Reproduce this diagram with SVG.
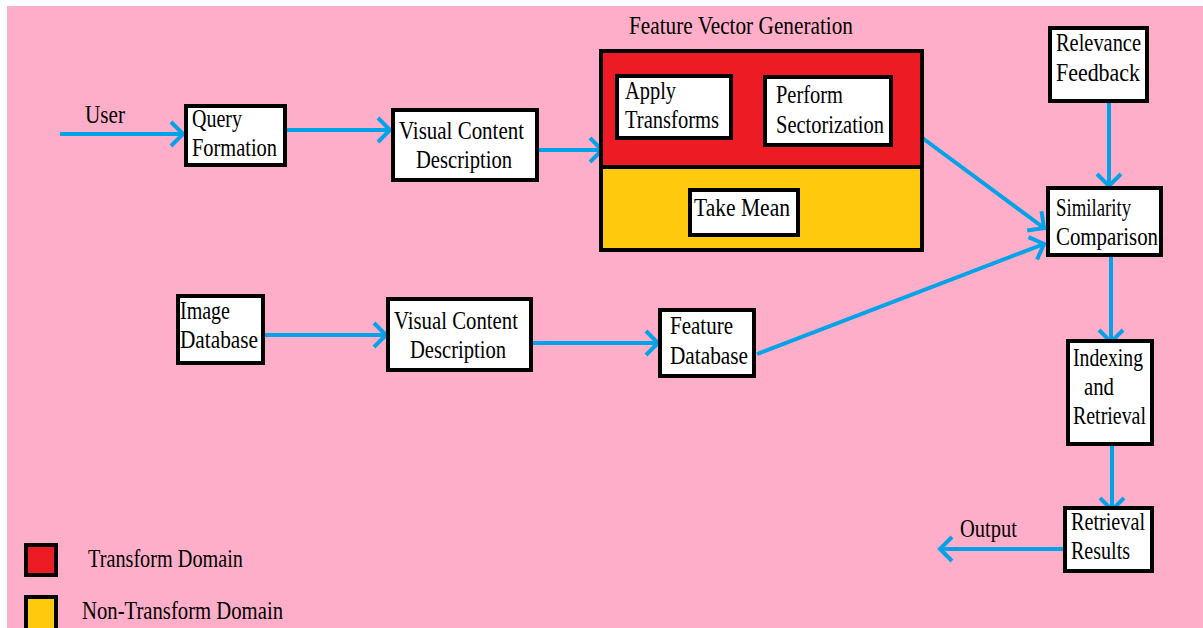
<svg xmlns="http://www.w3.org/2000/svg" width="1203" height="628" viewBox="0 0 1203 628">
<defs>
<style>
.box{fill:#fff;stroke:#000;stroke-width:4}
.ln{stroke:#00A2E8;stroke-width:4;fill:none;marker-end:url(#ah)}
</style>
<marker id="ah" markerUnits="userSpaceOnUse" markerWidth="20" markerHeight="30" viewBox="-16 -15 20 30" refX="0" refY="0" orient="auto">
<path d="M-12,-12 L0,0 L-12,12" fill="none" stroke="#00A2E8" stroke-width="4"/>
</marker>
</defs>
<rect x="0" y="0" width="1203" height="628" fill="#fff"/>
<rect x="7" y="6" width="1196" height="622" fill="#FFAEC9"/>

<text x="85" y="123" font-family="Liberation Serif" font-size="25" textLength="40" lengthAdjust="spacingAndGlyphs">User</text>
<text x="629" y="34" font-family="Liberation Serif" font-size="25" textLength="224" lengthAdjust="spacingAndGlyphs">Feature Vector Generation</text>
<text x="960" y="537" font-family="Liberation Serif" font-size="25" textLength="57" lengthAdjust="spacingAndGlyphs">Output</text>

<g id="connectors">
<line class="ln" x1="60" y1="134" x2="183" y2="134"/>
<line class="ln" x1="287" y1="130" x2="390" y2="130"/>
<line class="ln" x1="539" y1="150" x2="602" y2="150"/>
<line class="ln" x1="921" y1="137" x2="1044" y2="228"/>
<line class="ln" x1="757" y1="354" x2="1044" y2="244"/>
<line class="ln" x1="1109" y1="103" x2="1109" y2="186"/>
<line class="ln" x1="1111" y1="257" x2="1111" y2="342"/>
<line class="ln" x1="1112" y1="446" x2="1112" y2="510"/>
<line class="ln" x1="1063" y1="549" x2="940" y2="549"/>
<line class="ln" x1="265" y1="335" x2="386" y2="335"/>
<line class="ln" x1="533" y1="343" x2="658" y2="343"/>
</g>

<g id="query-formation">
<rect class="box" x="186" y="106" width="99" height="59"/>
<text x="192" y="127" font-family="Liberation Serif" font-size="25" textLength="50" lengthAdjust="spacingAndGlyphs">Query</text>
<text x="192" y="156" font-family="Liberation Serif" font-size="25" textLength="85" lengthAdjust="spacingAndGlyphs">Formation</text>
</g>

<g id="visual-content-top">
<rect class="box" x="393" y="110" width="144" height="70"/>
<text x="399" y="139" font-family="Liberation Serif" font-size="25" textLength="125" lengthAdjust="spacingAndGlyphs">Visual Content</text>
<text x="416" y="168" font-family="Liberation Serif" font-size="25" textLength="96" lengthAdjust="spacingAndGlyphs">Description</text>
</g>

<g id="feature-vector-generation">
<rect x="601" y="51" width="321" height="116" fill="#ED1C24" stroke="#000" stroke-width="4"/>
<rect x="601" y="167" width="321" height="83" fill="#FFC90E" stroke="#000" stroke-width="4"/>
</g>

<g id="apply-transforms">
<rect class="box" x="617" y="76" width="114" height="62"/>
<text x="625" y="99" font-family="Liberation Serif" font-size="25" textLength="51" lengthAdjust="spacingAndGlyphs">Apply</text>
<text x="625" y="128" font-family="Liberation Serif" font-size="25" textLength="94" lengthAdjust="spacingAndGlyphs">Transforms</text>
</g>

<g id="perform-sectorization">
<rect class="box" x="765" y="77" width="126" height="68"/>
<text x="776" y="103" font-family="Liberation Serif" font-size="25" textLength="67" lengthAdjust="spacingAndGlyphs">Perform</text>
<text x="776" y="133" font-family="Liberation Serif" font-size="25" textLength="108" lengthAdjust="spacingAndGlyphs">Sectorization</text>
</g>

<g id="take-mean">
<rect class="box" x="690" y="190" width="108" height="45"/>
<text x="694" y="216" font-family="Liberation Serif" font-size="25" textLength="96" lengthAdjust="spacingAndGlyphs">Take Mean</text>
</g>

<g id="relevance-feedback">
<rect class="box" x="1050" y="28" width="97" height="73"/>
<text x="1056" y="51" font-family="Liberation Serif" font-size="25" textLength="85" lengthAdjust="spacingAndGlyphs">Relevance</text>
<text x="1056" y="81" font-family="Liberation Serif" font-size="25" textLength="84" lengthAdjust="spacingAndGlyphs">Feedback</text>
</g>

<g id="similarity-comparison">
<rect class="box" x="1048" y="188" width="113" height="67"/>
<text x="1056" y="216" font-family="Liberation Serif" font-size="25" textLength="75" lengthAdjust="spacingAndGlyphs">Similarity</text>
<text x="1056" y="245" font-family="Liberation Serif" font-size="25" textLength="102" lengthAdjust="spacingAndGlyphs">Comparison</text>
</g>

<g id="indexing-retrieval">
<rect class="box" x="1068" y="341" width="84" height="103"/>
<text x="1073" y="366" font-family="Liberation Serif" font-size="25" textLength="70" lengthAdjust="spacingAndGlyphs">Indexing</text>
<text x="1084" y="395" font-family="Liberation Serif" font-size="25" textLength="30" lengthAdjust="spacingAndGlyphs">and</text>
<text x="1073" y="424" font-family="Liberation Serif" font-size="25" textLength="73" lengthAdjust="spacingAndGlyphs">Retrieval</text>
</g>

<g id="retrieval-results">
<rect class="box" x="1065" y="508" width="87" height="63"/>
<text x="1071" y="530" font-family="Liberation Serif" font-size="25" textLength="74" lengthAdjust="spacingAndGlyphs">Retrieval</text>
<text x="1071" y="559" font-family="Liberation Serif" font-size="25" textLength="59" lengthAdjust="spacingAndGlyphs">Results</text>
</g>

<g id="image-database">
<rect class="box" x="178" y="296" width="85" height="67"/>
<text x="180" y="319" font-family="Liberation Serif" font-size="25" textLength="50" lengthAdjust="spacingAndGlyphs">Image</text>
<text x="180" y="348" font-family="Liberation Serif" font-size="25" textLength="78" lengthAdjust="spacingAndGlyphs">Database</text>
</g>

<g id="visual-content-bottom">
<rect class="box" x="388" y="299" width="143" height="71"/>
<text x="394" y="329" font-family="Liberation Serif" font-size="25" textLength="124" lengthAdjust="spacingAndGlyphs">Visual Content</text>
<text x="410" y="358" font-family="Liberation Serif" font-size="25" textLength="96" lengthAdjust="spacingAndGlyphs">Description</text>
</g>

<g id="feature-database">
<rect class="box" x="660" y="310" width="94" height="66"/>
<text x="670" y="334" font-family="Liberation Serif" font-size="25" textLength="63" lengthAdjust="spacingAndGlyphs">Feature</text>
<text x="670" y="364" font-family="Liberation Serif" font-size="25" textLength="78" lengthAdjust="spacingAndGlyphs">Database</text>
</g>

<g id="legend">
<rect x="26" y="545" width="30" height="30" fill="#ED1C24" stroke="#000" stroke-width="4"/>
<rect x="26" y="597" width="30" height="33" fill="#FFC90E" stroke="#000" stroke-width="4"/>
<text x="88" y="567" font-family="Liberation Serif" font-size="25" textLength="155" lengthAdjust="spacingAndGlyphs">Transform Domain</text>
<text x="82" y="619" font-family="Liberation Serif" font-size="25" textLength="201" lengthAdjust="spacingAndGlyphs">Non-Transform Domain</text>
</g>
</svg>
